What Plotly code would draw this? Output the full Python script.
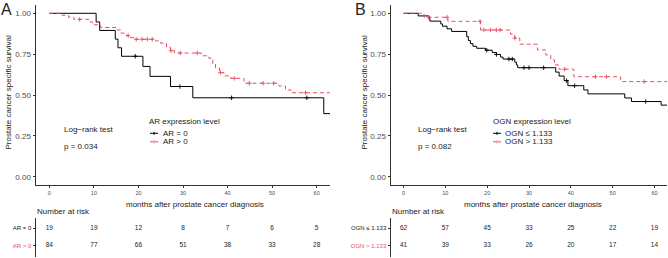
import plotly.graph_objects as go

# ---------------- data ----------------
# Panel A: AR expression
times_ar0 = [0, 10.5, 11.3, 14.8, 15.4, 16.2, 21.0, 22.6, 27.2, 32.2, 61.6, 64]
surv_ar0 = [1.0, 0.947, 0.895, 0.842, 0.789, 0.737, 0.675, 0.614, 0.552, 0.483, 0.386, 0.386]
cens_ar0_t = [19.3, 29.3, 40.9, 57.8]
cens_ar0_s = [0.737, 0.552, 0.483, 0.483]

times_ar1 = [0, 2.8, 4.3, 5.5, 9.1, 9.7, 11.5, 15.2, 16.0, 17.3, 18.0, 19.0, 23.8, 25.0, 26.3,
             27.2, 28.1, 34.1, 35.8, 36.7, 37.3, 38.2, 39.2, 40.7, 43.7, 51.5, 53.0, 54.2, 64]
surv_ar1 = [1.0, 0.988, 0.976, 0.963, 0.947, 0.930, 0.913, 0.898, 0.879, 0.863, 0.851, 0.841, 0.831,
            0.817, 0.792, 0.771, 0.757, 0.740, 0.725, 0.690, 0.664, 0.637, 0.617, 0.602, 0.572,
            0.555, 0.531, 0.514, 0.514]
cens_ar1_t = [6.8, 17.7, 19.5, 20.8, 22.0, 23.1, 27.3, 29.4, 33.2, 38.4, 41.5, 44.9, 48.0, 50.3, 57.5]
cens_ar1_s = [0.963, 0.863, 0.841, 0.841, 0.841, 0.841, 0.771, 0.757, 0.757, 0.637, 0.602, 0.572,
              0.572, 0.572, 0.514]

# Panel B: OGN expression
times_ogn0 = [0, 3.5, 6.1, 6.3, 8.9, 9.3, 10.4, 11.5, 15.1, 15.5, 16.0, 16.6, 17.5, 19.6, 21.2,
              22.2, 23.2, 23.8, 26.6, 27.0, 27.3, 36.4, 37.2, 38.4, 39.3, 43.1, 44.1, 52.9, 54.5,
              61.6, 64]
surv_ogn0 = [1.0, 0.984, 0.968, 0.952, 0.935, 0.921, 0.905, 0.889, 0.857, 0.833, 0.814, 0.798,
             0.786, 0.774, 0.760, 0.748, 0.732, 0.720, 0.701, 0.684, 0.667, 0.640, 0.616, 0.588,
             0.557, 0.531, 0.507, 0.482, 0.460, 0.438, 0.438]
cens_ogn0_t = [19.9, 22.2, 25.2, 26.0, 28.8, 30.0, 33.5, 39.0, 40.9, 57.9]
cens_ogn0_s = [0.774, 0.748, 0.720, 0.720, 0.667, 0.667, 0.667, 0.588, 0.557, 0.460]

times_ogn1 = [0, 4.9, 10.6, 18.4, 25.6, 26.6, 27.8, 32.0, 34.0, 35.2, 36.1, 37.2, 40.7, 51.9, 64]
surv_ogn1 = [1.0, 0.976, 0.951, 0.898, 0.872, 0.848, 0.811, 0.776, 0.745, 0.715, 0.684, 0.658,
             0.612, 0.582, 0.582]
cens_ogn1_t = [6.0, 10.4, 18.3, 19.2, 20.8, 22.2, 23.1, 26.6, 38.5, 45.9, 48.5, 57.5]
cens_ogn1_s = [0.976, 0.976, 0.951, 0.898, 0.898, 0.898, 0.898, 0.848, 0.658, 0.612, 0.612, 0.582]

# Number at risk
months_risk = [0, 10, 20, 30, 40, 50, 60]
risk_ar0 = [19, 19, 12, 8, 7, 6, 5]
risk_ar1 = [84, 77, 66, 51, 38, 33, 28]
risk_ogn0 = [62, 57, 45, 33, 25, 22, 19]
risk_ogn1 = [41, 39, 33, 26, 20, 17, 14]

y_ticks = [0, 0.25, 0.5, 0.75, 1.0]

# ---------------- style ----------------
W, H = 668, 258
FONT = "Liberation Sans, Arial, sans-serif"
BLACK = "#000000"
RED = "#E94E63"
AXC = "#333333"
TXT = "#4d4d4d"


def fx(p):
    return p / W


def fy(p):
    return 1 - p / H


fig = go.Figure()


def add_panel(xa, ya, t0, s0, c0t, c0s, t1, s1, c1t, c1s):
    fig.add_trace(go.Scatter(x=t0, y=s0, mode="lines", line=dict(shape="hv", color=BLACK, width=1),
                             xaxis=xa, yaxis=ya, showlegend=False, hoverinfo="skip"))
    fig.add_trace(go.Scatter(x=c0t, y=c0s, mode="markers",
                             marker=dict(symbol="cross-thin", size=3.2, line=dict(color=BLACK, width=0.9)),
                             xaxis=xa, yaxis=ya, showlegend=False, hoverinfo="skip"))
    fig.add_trace(go.Scatter(x=t1, y=s1, mode="lines",
                             line=dict(shape="hv", color=RED, width=1, dash="4px,3px"),
                             xaxis=xa, yaxis=ya, showlegend=False, hoverinfo="skip"))
    fig.add_trace(go.Scatter(x=c1t, y=c1s, mode="markers",
                             marker=dict(symbol="cross-thin", size=3.2, line=dict(color=RED, width=0.9)),
                             xaxis=xa, yaxis=ya, showlegend=False, hoverinfo="skip"))


def add_table(xa, ya, r0, r1):
    fig.add_trace(go.Scatter(x=months_risk, y=[1] * len(months_risk), text=[str(v) for v in r0],
                             mode="text", textfont=dict(size=6.5, color="#222", family=FONT),
                             xaxis=xa, yaxis=ya, showlegend=False, hoverinfo="skip"))
    fig.add_trace(go.Scatter(x=months_risk, y=[0] * len(months_risk), text=[str(v) for v in r1],
                             mode="text", textfont=dict(size=6.5, color="#222", family=FONT),
                             xaxis=xa, yaxis=ya, showlegend=False, hoverinfo="skip"))


add_panel("x", "y", times_ar0, surv_ar0, cens_ar0_t, cens_ar0_s,
          times_ar1, surv_ar1, cens_ar1_t, cens_ar1_s)
add_table("x2", "y2", risk_ar0, risk_ar1)
add_panel("x3", "y3", times_ogn0, surv_ogn0, cens_ogn0_t, cens_ogn0_s,
          times_ogn1, surv_ogn1, cens_ogn1_t, cens_ogn1_s)
add_table("x4", "y4", risk_ogn0, risk_ogn1)

top_y = fy(5.13)
bot_y = fy(184.87)
tab_top = fy(218)
tab_bot = fy(256.7)
domA = [fx(36), fx(330)]
domB = [fx(391), fx(667)]

xtop = dict(range=[-3, 63], tickvals=months_risk, ticks="outside", ticklen=2.5, tickcolor=AXC,
            tickwidth=1, showline=True, linecolor=AXC, linewidth=1, showgrid=False, zeroline=False,
            tickfont=dict(size=5.5, color=TXT, family=FONT), automargin=False, fixedrange=True)
ytop = dict(range=[-0.05, 1.05], tickvals=y_ticks, tickformat=".2f", ticks="outside", ticklen=2.5,
            tickcolor=AXC, tickwidth=1, showline=True, linecolor=AXC, linewidth=1, showgrid=False,
            zeroline=False, tickfont=dict(size=8, color=TXT, family=FONT), automargin=False,
            fixedrange=True)
xtab = dict(range=[-3, 63], visible=False, fixedrange=True)
ytab = dict(range=[-0.621, 1.565], tickvals=[0, 1], ticks="outside", ticklen=2.5, tickcolor=AXC,
            tickwidth=1, showline=True, linecolor=AXC, linewidth=1, showgrid=False, zeroline=False,
            tickfont=dict(size=6, color="#222", family=FONT), automargin=False, fixedrange=True)

fig.update_layout(
    width=W, height=H, margin=dict(l=0, r=0, t=0, b=0),
    paper_bgcolor="white", plot_bgcolor="white", showlegend=False,
    font=dict(family=FONT, color="#222"),
    xaxis=dict(xtop, domain=domA, anchor="y"),
    yaxis=dict(ytop, domain=[bot_y, top_y], anchor="x"),
    xaxis2=dict(xtab, domain=domA, anchor="y2"),
    yaxis2=dict(ytab, domain=[tab_bot, tab_top], anchor="x2",
                ticktext=[f"<span style='color:{RED}'>AR > 0</span>", "AR = 0"]),
    xaxis3=dict(xtop, domain=domB, anchor="y3"),
    yaxis3=dict(ytop, domain=[bot_y, top_y], anchor="x3"),
    xaxis4=dict(xtab, domain=domB, anchor="y4"),
    yaxis4=dict(ytab, domain=[tab_bot, tab_top], anchor="x4",
                ticktext=[f"<span style='color:{RED}'>OGN > 1.133</span>", "OGN ≤ 1.133"]),
)

ann = []


def text(x, y, s, size=8, xanchor="left", color="#222", angle=0):
    ann.append(dict(x=fx(x), y=fy(y), xref="paper", yref="paper", text=s, showarrow=False,
                    xanchor=xanchor, yanchor="middle", textangle=angle,
                    font=dict(size=size, color=color, family=FONT)))


# panel letters
text(-1, 9.5, "A", size=16)
text(353, 9.5, "B", size=16)
# y titles
text(8, 92.5, "Prostate cancer specific survival", size=8, xanchor="center", angle=-90)
text(364, 92.5, "Prostate cancer specific survival", size=8, xanchor="center", angle=-90)
# x titles
text(195, 204.5, "months after prostate cancer diagnosis", size=8, xanchor="center")
text(533, 204.5, "months after prostate cancer diagnosis", size=8, xanchor="center")
# number at risk
text(35, 211.5, "Number at risk", size=8)
text(390, 211.5, "Number at risk", size=8)
# log-rank
text(62, 129.5, "Log−rank test", size=8)
text(62, 146, "p = 0.034", size=8)
text(416, 129.5, "Log−rank test", size=8)
text(416, 146, "p = 0.082", size=8)
# legends
text(147, 122, "AR expression level", size=8)
text(161, 133.3, "AR = 0", size=8)
text(161, 141.8, "AR > 0", size=8)
text(491, 122, "OGN expression level", size=8)
text(503, 133.3, "OGN ≤ 1.133", size=8)
text(503, 141.8, "OGN > 1.133", size=8)

shapes = []
for (x0, x1) in [(150, 158), (493, 501)]:
    shapes.append(dict(type="line", xref="paper", yref="paper", x0=fx(x0), x1=fx(x1),
                       y0=fy(133.3), y1=fy(133.3), line=dict(color=BLACK, width=1)))
    shapes.append(dict(type="line", xref="paper", yref="paper", x0=fx(x0), x1=fx(x1),
                       y0=fy(141.8), y1=fy(141.8), line=dict(color=RED, width=1, dash="3px,2px")))
    xm = (x0 + x1) / 2
    shapes.append(dict(type="line", xref="paper", yref="paper", x0=fx(xm), x1=fx(xm),
                       y0=fy(131.8), y1=fy(134.8), line=dict(color=BLACK, width=1)))
    shapes.append(dict(type="line", xref="paper", yref="paper", x0=fx(xm), x1=fx(xm),
                       y0=fy(140.3), y1=fy(143.3), line=dict(color=RED, width=1)))

fig.update_layout(annotations=ann, shapes=shapes)

fig.write_html("out.html", config={"displayModeBar": False, "staticPlot": True},
               post_script="document.body.style.margin='0';document.body.style.overflow='hidden';")
